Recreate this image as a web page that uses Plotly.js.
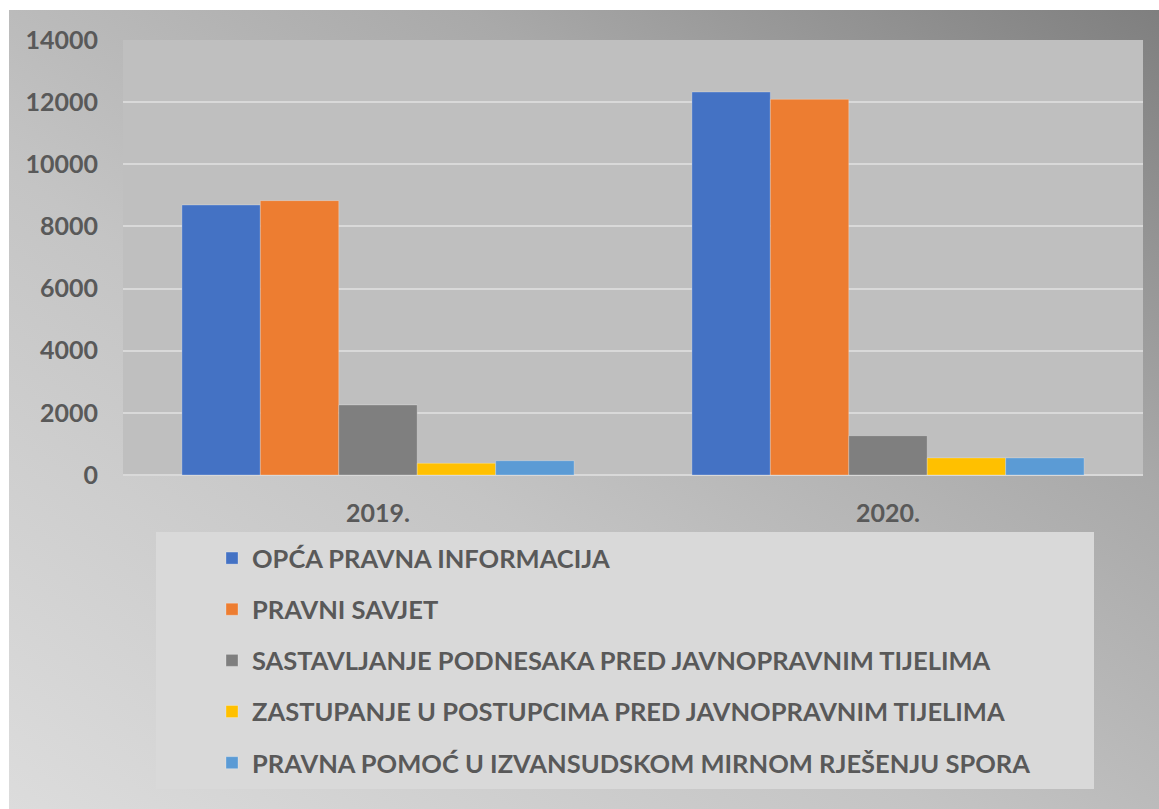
<!DOCTYPE html>
<html>
<head>
<meta charset="utf-8">
<script src="https://cdn.plot.ly/plotly-3.0.1.min.js"></script>
<style>
  html, body { margin: 0; padding: 0; background: #ffffff; width: 1159px; height: 809px; overflow: hidden; }
  #chart {
    position: absolute; left: 9px; top: 10px; width: 1150px; height: 799px;
    background: linear-gradient(to top right, #dcdcdc 0%, #c4c4c4 40%, #a9a9a9 70%, #7f7f7f 100%);
  }
</style>
</head>
<body>
<div id="chart"></div>
<script>
const categories = ["2019.", "2020."];
const seriesNames = [
  "OPĆA PRAVNA INFORMACIJA",
  "PRAVNI SAVJET",
  "SASTAVLJANJE PODNESAKA PRED JAVNOPRAVNIM TIJELIMA",
  "ZASTUPANJE U POSTUPCIMA PRED JAVNOPRAVNIM TIJELIMA",
  "PRAVNA POMOĆ U IZVANSUDSKOM MIRNOM RJEŠENJU SPORA"
];
const opcaPravnaInformacija = [8690, 12325];
const pravniSavjet = [8830, 12090];
const sastavljanjePodnesaka = [2255, 1265];
const zastupanje = [375, 550];
const izvansudskoRjesenje = [460, 550];
const yTicks = [0, 2000, 4000, 6000, 8000, 10000, 12000, 14000];

const seriesValues = [opcaPravnaInformacija, pravniSavjet, sastavljanjePodnesaka, zastupanje, izvansudskoRjesenje];
const colors = ["#4472C4", "#ED7D31", "#7F7F7F", "#FFC000", "#5B9BD5"];

const traces = seriesNames.map((name, i) => ({
  type: "bar",
  name: name,
  x: categories,
  y: seriesValues[i],
  legendgroup: "g" + i,
  marker: { color: colors[i], line: { color: "rgba(255,255,255,0.25)", width: 1 } },
  hoverinfo: "x+y+name"
}));

const W = 1150, H = 799;
const plotL = 114, plotR = 1134, plotT = 30, plotB = 465;
const ph = plotB - plotT, pw = plotR - plotL;
const px2x = (px) => (px - plotL) / pw;
const py2y = (py) => (plotB - py) / ph;

const layout = {
  width: W, height: H,
  margin: { l: plotL, r: W - plotR, t: plotT, b: H - plotB, pad: 0, autoexpand: false },
  paper_bgcolor: "rgba(0,0,0,0)",
  plot_bgcolor: "#bfbfbf",
  barmode: "group",
  bargap: 0.231,
  bargroupgap: 0,
  font: { family: "Lato, 'Open Sans', sans-serif", color: "#595959" },
  xaxis: {
    type: "category",
    showgrid: false,
    showline: false,
    zeroline: false,
    ticks: "",
    ticklabelstandoff: 21,
    tickfont: { family: "Lato, sans-serif", size: 25, color: "#595959", weight: "bold" }
  },
  yaxis: {
    range: [0, 14000],
    tickvals: yTicks,
    ticktext: yTicks.map(String),
    showgrid: true,
    gridcolor: "#d9d9d9",
    gridwidth: 2,
    zeroline: true,
    zerolinecolor: "#d9d9d9",
    zerolinewidth: 2,
    showline: false,
    ticks: "",
    ticklabelstandoff: 24,
    tickfont: { family: "Lato, sans-serif", size: 25, color: "#595959", weight: "bold" }
  },
  showlegend: true,
  legend: {
    x: px2x(203), xanchor: "left",
    y: py2y(525), yanchor: "top",
    bgcolor: "rgba(0,0,0,0)",
    borderwidth: 0,
    traceorder: "grouped",
    tracegroupgap: 15,
    font: { family: "Lato, sans-serif", size: 25.5, color: "#595959", weight: "bold" }
  },
  shapes: [{
    type: "rect", xref: "paper", yref: "paper",
    x0: px2x(147), x1: px2x(1085), y0: py2y(779), y1: py2y(522),
    fillcolor: "#d9d9d9", line: { width: 0 }, layer: "below"
  }]
};

Plotly.newPlot("chart", traces, layout, { displayModeBar: false, staticPlot: true });
</script>
</body>
</html>
